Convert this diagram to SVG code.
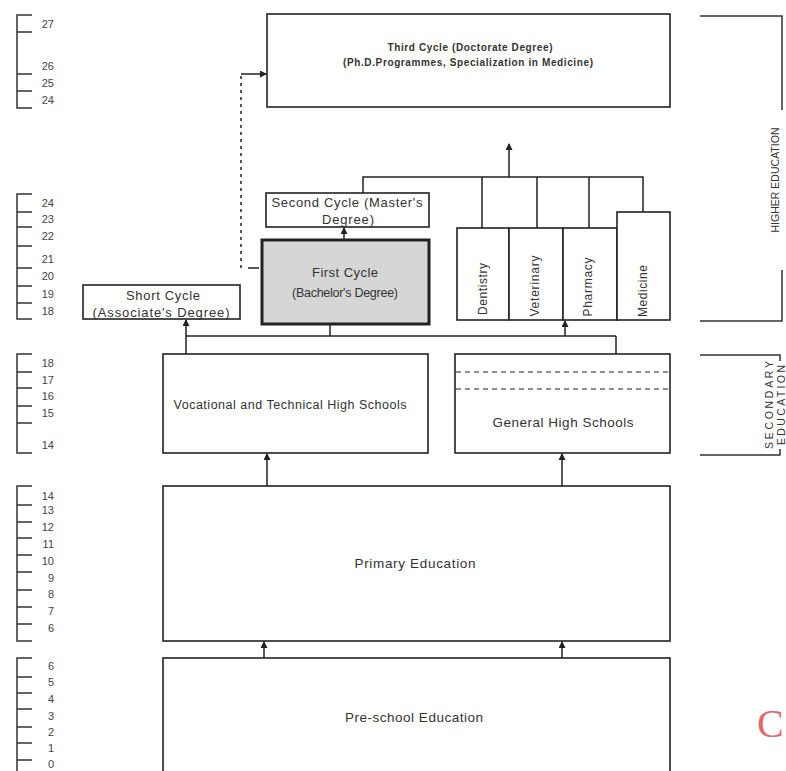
<svg xmlns="http://www.w3.org/2000/svg" width="786" height="771" viewBox="0 0 786 771">
<style>
.box{fill:#fff;stroke:#222;stroke-width:1.6}
.ln{fill:none;stroke:#222;stroke-width:1.5}
.sc{fill:none;stroke:#333;stroke-width:1.5}
.t{font-family:"Liberation Sans",Arial,sans-serif;fill:#333}
.lab{font-family:"Liberation Sans",Arial,sans-serif;fill:#444;font-size:11px;text-anchor:end}
.c{text-anchor:middle}
</style>
<defs>
<marker id="ah" markerWidth="7" markerHeight="7" refX="6" refY="3.5" orient="auto" markerUnits="userSpaceOnUse">
<path d="M0,0 L7,3.5 L0,7 Z" fill="#222"/>
</marker>
</defs>
<rect width="786" height="771" fill="#fff"/>

<g id="age-scales">
<path class="sc" d="M32,15 H17 V108 H32 M17,32 H32 M17,74 H32 M17,91 H32"/>
<text class="lab" x="54" y="28">27</text><text class="lab" x="54" y="70">26</text><text class="lab" x="54" y="87">25</text><text class="lab" x="54" y="104">24</text>
<path class="sc" d="M32,194 H17 V319 H32 M17,212 H32 M17,227 H32 M17,246 H32 M17,268 H32 M17,286 H32 M17,303 H32"/>
<text class="lab" x="54" y="207">24</text><text class="lab" x="54" y="223">23</text><text class="lab" x="54" y="240">22</text><text class="lab" x="54" y="263">21</text><text class="lab" x="54" y="280">20</text><text class="lab" x="54" y="298">19</text><text class="lab" x="54" y="315">18</text>
<path class="sc" d="M32,354 H17 V453 H32 M17,372 H32 M17,388 H32 M17,406 H32 M17,423 H32"/>
<text class="lab" x="54" y="367">18</text><text class="lab" x="54" y="384">17</text><text class="lab" x="54" y="400">16</text><text class="lab" x="54" y="417">15</text><text class="lab" x="54" y="449">14</text>
<path class="sc" d="M32,486 H17 V641 H32 M17,505 H32 M17,522 H32 M17,538 H32 M17,555 H32 M17,572 H32 M17,590 H32 M17,607 H32 M17,624 H32"/>
<text class="lab" x="54" y="500">14</text><text class="lab" x="54" y="514">13</text><text class="lab" x="54" y="531">12</text><text class="lab" x="54" y="548">11</text><text class="lab" x="54" y="565">10</text><text class="lab" x="54" y="582">9</text><text class="lab" x="54" y="598">8</text><text class="lab" x="54" y="615">7</text><text class="lab" x="54" y="632">6</text>
<path class="sc" d="M32,658 H17 V771 M17,677 H32 M17,693 H32 M17,709 H32 M17,727 H32 M17,743 H32 M17,760 H32"/>
<text class="lab" x="54" y="670">6</text><text class="lab" x="54" y="686">5</text><text class="lab" x="54" y="703">4</text><text class="lab" x="54" y="720">3</text><text class="lab" x="54" y="736">2</text><text class="lab" x="54" y="752">1</text><text class="lab" x="54" y="768">0</text>
</g>

<g id="level-brackets">
<path class="sc" d="M700,16 H782 V110 M782,270 V321 H700"/>
<text class="t c" transform="translate(779,180) rotate(-90)" font-size="10.5" textLength="105">HIGHER EDUCATION</text>
<path class="sc" d="M700,355 H780 V361 M780,449 V455 H700"/>
<text class="t c" transform="translate(773,405) rotate(-90)" font-size="10.5" textLength="88">SECONDARY</text>
<text class="t c" transform="translate(784.5,405) rotate(-90)" font-size="10.5" textLength="80">EDUCATION</text>
</g>

<g id="connectors">
<line class="ln" x1="241" y1="76" x2="241" y2="268" stroke-dasharray="3,4"/>
<line class="ln" x1="248" y1="268" x2="259" y2="268"/>
<line class="ln" x1="241" y1="74" x2="266" y2="74" marker-end="url(#ah)"/>
<line class="ln" x1="344" y1="240" x2="344" y2="228" marker-end="url(#ah)"/>
<path class="ln" d="M363,193 V177 H643 V212 M482,177 V228 M537,177 V228 M589,177 V228"/>
<line class="ln" x1="509" y1="177" x2="509" y2="144" marker-end="url(#ah)"/>
<line class="ln" x1="186" y1="336" x2="616" y2="336"/>
<line class="ln" x1="186" y1="354" x2="186" y2="320" marker-end="url(#ah)"/>
<line class="ln" x1="330" y1="336" x2="330" y2="324"/>
<line class="ln" x1="565" y1="336" x2="565" y2="321" marker-end="url(#ah)"/>
<line class="ln" x1="616" y1="336" x2="616" y2="354"/>
<line class="ln" x1="267" y1="486" x2="267" y2="454" marker-end="url(#ah)"/>
<line class="ln" x1="562" y1="486" x2="562" y2="454" marker-end="url(#ah)"/>
<line class="ln" x1="264" y1="658" x2="264" y2="642" marker-end="url(#ah)"/>
<line class="ln" x1="562" y1="658" x2="562" y2="642" marker-end="url(#ah)"/>
</g>

<g id="third-cycle">
<rect class="box" x="267" y="14" width="403" height="93"/>
<text class="t c" x="470" y="51" font-size="10" font-weight="bold" textLength="165">Third Cycle (Doctorate Degree)</text>
<text class="t c" x="468" y="66" font-size="10" font-weight="bold" textLength="250">(Ph.D.Programmes, Specialization in Medicine)</text>
</g>

<g id="second-cycle">
<rect class="box" x="266" y="193" width="163" height="34"/>
<text class="t c" x="347" y="207" font-size="13" textLength="151">Second Cycle (Master's</text>
<text class="t c" x="348" y="224" font-size="13" textLength="52">Degree)</text>
</g>

<g id="first-cycle">
<rect x="262" y="240" width="167" height="84" fill="#d6d6d6" stroke="#222" stroke-width="3"/>
<text class="t c" x="345" y="277" font-size="13" textLength="66" fill="#222">First Cycle</text>
<text class="t c" x="345" y="297" font-size="12.5" textLength="106" fill="#222">(Bachelor's Degree)</text>
</g>

<g id="short-cycle">
<rect class="box" x="83" y="285" width="157" height="34"/>
<text class="t c" x="163" y="300" font-size="13" textLength="74">Short Cycle</text>
<text class="t c" x="161" y="317" font-size="13" textLength="137">(Associate's Degree)</text>
</g>

<g id="dentistry">
<rect class="box" x="457" y="228" width="52" height="92"/>
<text class="t c" transform="translate(487,289) rotate(-90)" font-size="12" textLength="52">Dentistry</text>
</g>
<g id="veterinary">
<rect class="box" x="509" y="228" width="54" height="92"/>
<text class="t c" transform="translate(539,286) rotate(-90)" font-size="12" textLength="61">Veterinary</text>
</g>
<g id="pharmacy">
<rect class="box" x="563" y="228" width="54" height="92"/>
<text class="t c" transform="translate(592,287) rotate(-90)" font-size="12" textLength="59">Pharmacy</text>
</g>
<g id="medicine">
<rect class="box" x="617" y="212" width="53" height="108"/>
<text class="t c" transform="translate(647,291) rotate(-90)" font-size="12" textLength="52">Medicine</text>
</g>

<g id="vocational">
<rect class="box" x="163" y="354" width="265" height="99"/>
<text class="t c" x="290" y="409" font-size="12.5" textLength="233">Vocational and Technical High Schools</text>
</g>

<g id="general-high">
<rect class="box" x="455" y="354" width="215" height="99"/>
<line x1="456" y1="372" x2="669" y2="372" stroke="#222" stroke-width="1.2" stroke-dasharray="5,4"/>
<line x1="456" y1="389" x2="669" y2="389" stroke="#222" stroke-width="1.2" stroke-dasharray="5,4"/>
<text class="t c" x="563" y="427" font-size="13.5" textLength="141">General High Schools</text>
</g>

<g id="primary">
<rect class="box" x="163" y="486" width="507" height="155"/>
<text class="t c" x="415" y="568" font-size="13.5" textLength="121">Primary Education</text>
</g>

<g id="pre-school">
<rect class="box" x="163" y="658" width="507" height="130"/>
<text class="t c" x="414" y="722" font-size="13.5" textLength="138">Pre-school Education</text>
</g>

<text x="757" y="737" font-family="'Liberation Serif',serif" font-size="40" fill="#e46a6a">C</text>
</svg>
